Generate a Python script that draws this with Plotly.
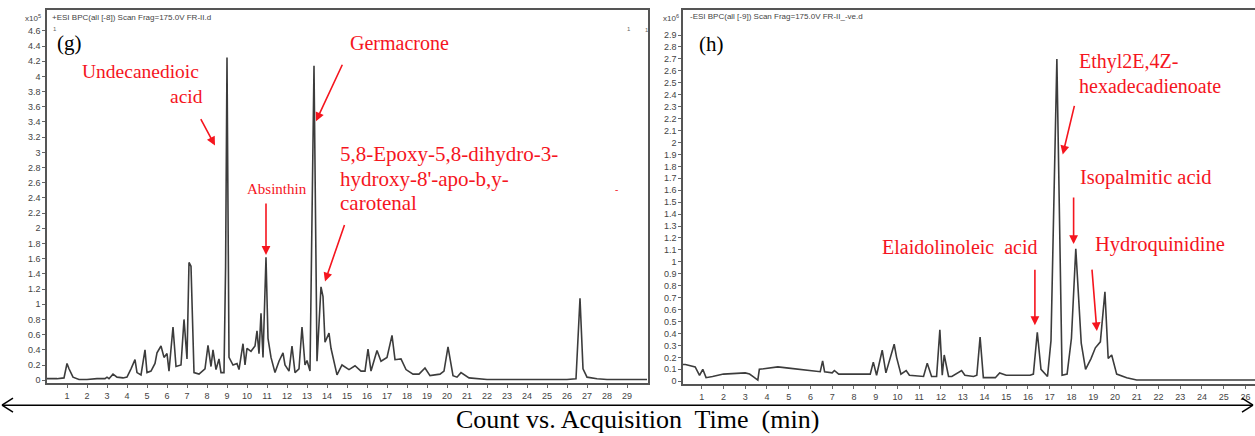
import plotly.graph_objects as go

W, H = 1255, 436

# ---------------- data: panel (g), counts x10^5 ----------------
t_g = [
    0, 0.5, 0.85, 1.0, 1.1, 1.3, 1.6, 2.0, 2.5, 2.9,
    3.0, 3.1, 3.3, 3.5, 3.8, 4.0, 4.2, 4.4, 4.5, 4.7,
    4.9, 5.0, 5.2, 5.4, 5.5, 5.7, 5.85, 6.0, 6.1, 6.3,
    6.45, 6.7, 6.85, 7.0, 7.1, 7.2, 7.35, 7.6, 7.9, 8.05,
    8.2, 8.3, 8.45, 8.6, 8.7, 8.85, 8.93, 9.0, 9.1, 9.3,
    9.5, 9.6, 9.8, 9.9, 10.0, 10.2, 10.4, 10.5, 10.6, 10.7,
    10.8, 10.95, 11.05, 11.2, 11.4, 11.6, 11.8, 11.9, 12.1, 12.25,
    12.4, 12.6, 12.75, 12.9, 13.0, 13.15, 13.35, 13.5, 13.7, 13.8,
    13.9, 14.0, 14.1, 14.2, 14.5, 14.75, 15.1, 15.4, 15.7, 15.9,
    16.05, 16.2, 16.5, 16.7, 17.0, 17.25, 17.4, 17.7, 17.95, 18.3,
    18.6, 18.9, 19.15, 19.65, 19.85, 20.05, 20.3, 20.5, 20.7, 21.1,
    21.5, 22, 24, 26, 26.45, 26.65, 26.8, 27.0, 27.5, 28,
    30,
]
v_g = [
    0.02, 0.02, 0.03, 0.22, 0.15, 0.04, 0.01, 0.01, 0.02, 0.02,
    0.04, 0.02, 0.08, 0.04, 0.03, 0.04, 0.15, 0.27, 0.1, 0.07,
    0.4, 0.1, 0.12, 0.22, 0.36, 0.45, 0.3, 0.35, 0.12, 0.7,
    0.18, 0.2, 0.8, 0.28, 1.55, 1.5, 0.1, 0.08, 0.15, 0.46,
    0.18, 0.4, 0.14, 0.28, 0.1, 0.1, 1.5, 4.25, 0.3, 0.2,
    0.22, 0.14, 0.48, 0.2, 0.42, 0.38, 0.45, 0.65, 0.35, 0.88,
    0.3, 1.62, 0.55, 0.3, 0.1, 0.25, 0.36, 0.2, 0.12, 0.45,
    0.1, 0.15, 0.7, 0.2, 0.26, 0.12, 4.14, 0.25, 1.23, 1.1,
    0.5, 0.55, 0.62, 0.42, 0.07, 0.2, 0.14, 0.19, 0.12, 0.12,
    0.41, 0.12, 0.39, 0.25, 0.3, 0.59, 0.27, 0.28, 0.14, 0.08,
    0.08, 0.16, 0.06, 0.08, 0.12, 0.44, 0.06, 0.04, 0.1, 0.03,
    0.02, 0.01, 0.01, 0.01, 0.02, 1.08, 0.15, 0.04, 0.02, 0.01,
    0.01,
]

# ---------------- data: panel (h), counts x10^6 ----------------
t_h = [
    0.14, 0.25, 0.7, 0.9, 1.05, 1.2, 1.5, 2.0, 3.0, 3.2,
    3.35, 3.5, 3.58, 3.65, 4.0, 4.5, 5.0, 5.5, 6.0, 6.45,
    6.56, 6.65, 7.0, 7.1, 7.3, 8.0, 8.75, 8.89, 9.04, 9.3,
    9.47, 9.85, 9.96, 10.16, 10.4, 10.55, 11.0, 11.2, 11.37, 11.57,
    11.8, 11.95, 12.06, 12.15, 12.35, 12.5, 12.95, 13.1, 13.5, 13.65,
    13.8, 13.95, 14.5, 14.7, 15.0, 15.5, 16.1, 16.25, 16.43, 16.6,
    16.9, 17.06, 17.33, 17.57, 17.8, 18.0, 18.2, 18.45, 18.65, 18.9,
    19.1, 19.33, 19.54, 19.69, 19.85, 20.08, 20.54, 21.0, 22.0, 26.5,
]
v_h = [
    0.14, 0.14, 0.12, 0.05, 0.1, 0.03, 0.04, 0.06, 0.07, 0.06,
    0.04, 0.02, 0.01, 0.1, 0.11, 0.12, 0.11, 0.1, 0.09, 0.08,
    0.17, 0.08, 0.07, 0.09, 0.06, 0.06, 0.06, 0.16, 0.05, 0.26,
    0.07, 0.31, 0.2, 0.06, 0.09, 0.05, 0.04, 0.04, 0.15, 0.04,
    0.04, 0.43, 0.05, 0.22, 0.04, 0.04, 0.09, 0.05, 0.04, 0.05,
    0.37, 0.03, 0.03, 0.07, 0.05, 0.05, 0.05, 0.06, 0.41, 0.1,
    0.04, 0.34, 2.7, 0.05, 0.06, 0.36, 1.11, 0.32, 0.1, 0.19,
    0.28, 0.33, 0.75, 0.19, 0.22, 0.06, 0.03, 0.01, 0.01, 0.01,
]

# tick labels
x_ticks_g = list(range(1, 30))
y_ticks_g = [round(0.2 * i, 1) for i in range(24)]
x_ticks_h = list(range(1, 27))
y_ticks_h = [round(0.1 * i, 1) for i in range(30)]

# compound arrows: (compound, time at arrow head, value at arrow head, ax, ay)
arrows_g = [
    ("Undecanedioic acid", 8.4, 3.09, -15, -28),
    ("Germacrone", 13.45, 3.41, 27, -58),
    ("Absinthin", 10.95, 1.65, 0, -53),
    ("5,8-Epoxy-5,8-dihydro-3-hydroxy-8'-apo-b,y-carotenal", 13.9, 1.30, 20, -58),
]
arrows_h = [
    ("Ethyl2E,4Z-hexadecadienoate", 17.6, 1.9, 12, -50),
    ("Isopalmitic acid", 18.1, 1.15, 0, -48),
    ("Hydroquinidine", 19.17, 0.42, -5, -63),
    ("Elaidolinoleic acid", 16.32, 0.47, 0, -57),
]

def px(x):
    return x / W

def py(y):
    return 1 - y / H

LINE = "#3c3c3c"
RED = "#f5151e"
SERIF = "Liberation Serif, Times New Roman, serif"
SANS = "Liberation Sans, Arial, sans-serif"

fig = go.Figure()
fig.add_trace(go.Scatter(x=t_g, y=v_g, mode="lines", xaxis="x", yaxis="y",
                         line=dict(color=LINE, width=1.6), hoverinfo="skip"))
fig.add_trace(go.Scatter(x=t_h, y=v_h, mode="lines", xaxis="x2", yaxis="y2",
                         line=dict(color=LINE, width=1.6), hoverinfo="skip"))

tickfont = dict(family=SANS, size=9, color="#444")
common_axis = dict(showgrid=False, zeroline=False, showline=True, linecolor="#555",
                   linewidth=1.5, ticks="outside", ticklen=3, tickcolor="#666",
                   tickfont=tickfont, fixedrange=True)

fig.update_layout(
    width=W, height=H, margin=dict(l=0, r=0, t=0, b=0),
    paper_bgcolor="white", plot_bgcolor="white", showlegend=False,
    xaxis=dict(domain=[px(47), px(648)], range=[0, 30.05], anchor="y",
               tickvals=x_ticks_g, mirror=True, **common_axis),
    yaxis=dict(domain=[1 - 385 / H, 1 - 10 / H], range=[-0.04, 4.875], anchor="x",
               tickvals=y_ticks_g, mirror=True, **common_axis),
    xaxis2=dict(domain=[px(683), 1.0], range=[0.14, 26.44], anchor="y2",
                tickvals=x_ticks_h, mirror=True, **common_axis),
    yaxis2=dict(domain=[1 - 386 / H, 1 - 10 / H], range=[-0.025, 3.11], anchor="x2",
                tickvals=y_ticks_h, mirror=False, **common_axis),
)

ann = []

def text(x, y, s, size, color="black", family=SERIF, xanchor="left"):
    ann.append(dict(x=px(x), y=py(y), xref="paper", yref="paper", text=s,
                    showarrow=False, xanchor=xanchor, yanchor="middle",
                    font=dict(family=family, size=size, color=color)))

# headers
text(50, 18, "+ESI BPC(all [-8]) Scan Frag=175.0V FR-II.d", 8, "#444", SANS)
text(43, 18, "x10<sup>5</sup>", 8, "#444", SANS, xanchor="right")
text(51, 29, "1", 6, "#666", SANS)
text(625, 29, "1", 6, "#666", SANS)
text(688, 17, "-ESI BPC(all [-9]) Scan Frag=175.0V FR-II_-ve.d", 8, "#444", SANS)
text(681, 18, "x10<sup>6</sup>", 8, "#444", SANS, xanchor="right")
text(643, 30, "1", 6, "#666", SANS)

# panel letters
text(55, 43, "(g)", 21)
text(697, 44, "(h)", 21)

# compound names
text(201, 72, "Undecanedioic", 19.5, RED, xanchor="right")
text(205, 97, "acid", 19.5, RED, xanchor="right")
text(348, 43, "Germacrone", 20, RED)
text(277, 190, "Absinthin", 15, RED, xanchor="center")
text(338, 155, "5,8-Epoxy-5,8-dihydro-3-", 21, RED)
text(338, 180, "hydroxy-8'-apo-b,y-", 21, RED)
text(338, 204, "carotenal", 21, RED)
text(613, 190, "-", 10, RED)
text(1077, 62, "Ethyl2E,4Z-", 20, RED)
text(1077, 86, "hexadecadienoate", 20, RED)
text(1078, 178, "Isopalmitic acid", 20.5, RED)
text(1093, 246, "Hydroquinidine", 20.5, RED)
text(880, 248, "Elaidolinoleic\u00a0\u00a0acid", 20, RED)

# arrows
for name, tx, vy, ax, ay in arrows_g:
    ann.append(dict(x=tx, y=vy, xref="x", yref="y", ax=ax, ay=ay, text="",
                    showarrow=True, arrowhead=2, arrowsize=1.1, arrowwidth=1.6,
                    arrowcolor=RED))
for name, tx, vy, ax, ay in arrows_h:
    ann.append(dict(x=tx, y=vy, xref="x2", yref="y2", ax=ax, ay=ay, text="",
                    showarrow=True, arrowhead=2, arrowsize=1.1, arrowwidth=1.6,
                    arrowcolor=RED))

# axis title
text(638, 421, "Count vs. Acquisition\u00a0 Time\u00a0 (min)", 26, "black", xanchor="center")

fig.update_layout(annotations=ann)

# double-headed arrow across the bottom
yb = py(407)
shapes = [
    dict(type="line", xref="paper", yref="paper", x0=px(2), x1=px(1253), y0=yb, y1=yb,
         line=dict(color="black", width=1.5)),
    dict(type="line", xref="paper", yref="paper", x0=px(2), x1=px(13), y0=yb, y1=py(400),
         line=dict(color="black", width=1.5)),
    dict(type="line", xref="paper", yref="paper", x0=px(2), x1=px(13), y0=yb, y1=py(414),
         line=dict(color="black", width=1.5)),
    dict(type="line", xref="paper", yref="paper", x0=px(1253), x1=px(1242), y0=yb, y1=py(400),
         line=dict(color="black", width=1.5)),
    dict(type="line", xref="paper", yref="paper", x0=px(1253), x1=px(1242), y0=yb, y1=py(414),
         line=dict(color="black", width=1.5)),
]
fig.update_layout(shapes=shapes)

fig.write_html(
    "out.html",
    config={"displayModeBar": False},
    post_script="document.body.style.margin='0';document.body.style.overflow='hidden';",
)
